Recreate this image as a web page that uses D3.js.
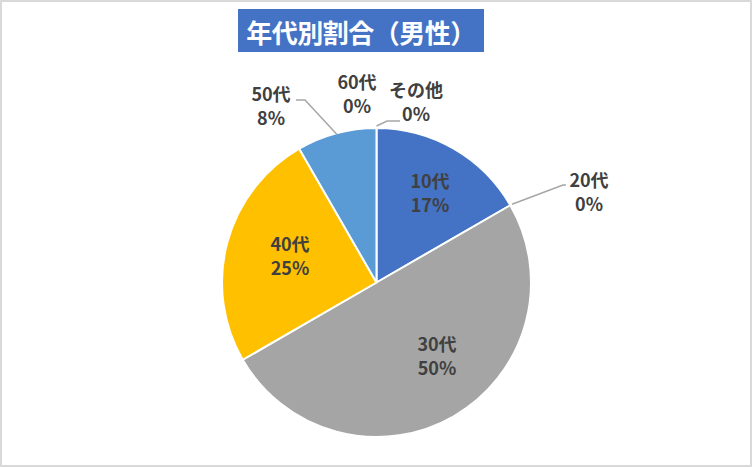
<!DOCTYPE html>
<html><head><meta charset="utf-8">
<script src="https://cdn.jsdelivr.net/npm/d3@7"></script>
<style>
html,body{margin:0;padding:0;background:#fff;}
svg{display:block;}
text{font-family:"Noto Sans CJK JP","Noto Sans",sans-serif;font-weight:700;}
</style></head>
<body>
<script>
const title = "年代別割合（男性）";
const categories = ["10代","20代","30代","40代","50代","60代","その他"];
const values = [2, 0, 6, 3, 1, 0, 0];
const percentLabels = ["17%","0%","50%","25%","8%","0%","0%"];
const colors = ["#4472C4","#ED7D31","#A5A5A5","#FFC000","#5B9BD5","#70AD47","#264478"];

const W = 752, H = 467;
const cx = 376.5, cy = 282.5, R = 154.5;

const svg = d3.select("body").append("svg").attr("width", W).attr("height", H);
svg.append("rect").attr("x",1).attr("y",1).attr("width",750).attr("height",465)
  .attr("fill","#fff").attr("stroke","#d9d9d9").attr("stroke-width",2);

// title
svg.append("rect").attr("x",238).attr("y",9).attr("width",246).attr("height",43).attr("fill","#4472C4");
svg.append("text").attr("x",361).attr("y",31).attr("text-anchor","middle").attr("dominant-baseline","central")
  .attr("fill","#fff").attr("font-size",26).attr("letter-spacing",-0.5).text(title);

const data = categories.map((c,i)=>({cat:c, value:values[i], pct:percentLabels[i], color:colors[i]}));
const pie = d3.pie().value(d=>d.value).sort(null);
const arcs = pie(data);
const arc = d3.arc().innerRadius(0).outerRadius(R);

const g = svg.append("g").attr("transform",`translate(${cx},${cy})`);
g.selectAll("path").data(arcs.filter(a=>a.data.value>0)).join("path")
  .attr("d", arc).attr("fill", d=>d.data.color)
  .attr("stroke","#fff").attr("stroke-width",2).attr("stroke-linejoin","round");

// label layout: first-line centre, relative to pie centre
const labelPos = {
  "10代": [53.5, -102.5],
  "20代": [212.5, -103.5],
  "30代": [60.5, 60.5],
  "40代": [-86.5, -39.5],
  "50代": [-105.5, -189.5],
  "60代": [-19.5, -201.5],
  "その他": [39.5, -193.5]
};
// leader line elbows (relative to pie centre) for outside labels
const leaders = {
  "20代": [[186.5,-97.5],[189.5,-97.5]],
  "50代": [[-71.5,-182.5],[-80.5,-182.5]],
  "その他": [[10.5,-161.5],[23.5,-161.5]]
};
const pt = (ang, r) => [Math.sin(ang)*r, -Math.cos(ang)*r];

arcs.forEach(a=>{
  const name = a.data.cat;
  if (leaders[name]) {
    const mid = (a.startAngle + a.endAngle)/2;
    const start = pt(mid, R + (a.data.value>0 ? -1 : 2));
    const pts = [start, ...leaders[name]];
    g.append("path").attr("d", d3.line()(pts)).attr("fill","none")
      .attr("stroke","#a6a6a6").attr("stroke-width",1.5);
  }
});

arcs.forEach(a=>{
  const [lx, ly] = labelPos[a.data.cat];
  const t = g.append("text").attr("text-anchor","middle").attr("fill","#404040").attr("font-size",18);
  t.append("tspan").attr("x",lx).attr("y",ly).attr("dominant-baseline","central").text(a.data.cat);
  t.append("tspan").attr("x",lx).attr("y",ly+24).attr("dominant-baseline","central").text(a.data.pct);
});
</script>
</body></html>
